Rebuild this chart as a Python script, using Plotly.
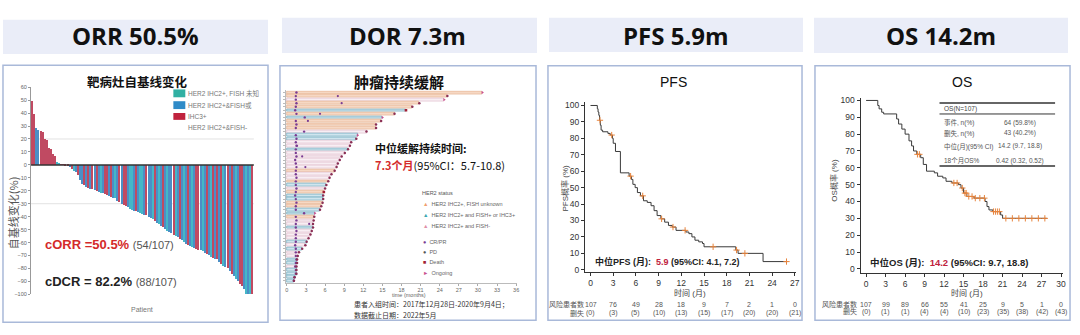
import plotly.graph_objects as go

W, H = 1080, 335
def px(x): return x / W
def py(y): return 1 - y / H

# ---------------- data ----------------
header_titles = ["ORR 50.5%", "DOR 7.3m", "PFS 5.9m", "OS 14.2m"]

# waterfall: best % change from baseline, 107 patients
wf_values = [49, 39, 28, 27, 26, 25, 20, 19, 13, 12, 8, 7, 2, 1, 0.5,
             0.3, -0.5, -1, -2, -3, -5, -6, -8, -12, -15, -16, -17, -18, -18.5, -19,
             -19.5, -20, -21, -21.5, -22, -22.5, -23, -24, -25, -25.5, -26, -28, -29, -30, -31,
             -32, -33, -34, -35, -36, -36, -36.5, -37, -38, -38.5, -39, -40, -41, -42, -43.5,
             -45, -46, -47, -48, -50, -51, -52, -53, -54, -55, -56, -57, -58, -60, -61,
             -62, -63, -63.5, -64, -65, -65.5, -66, -67, -68, -69, -70, -71, -72, -72.5, -73,
             -75, -77, -78, -79, -80, -82, -84, -86, -88, -90, -92, -94, -96, -100, -100, -100, -100]
wf_groups = ("RRBBRRRRRRRRTTR"
             "RRRBRTBRBBRBRBR"
             "BRBTBRRBRBTBRBR"
             "RBTTBRBTTBRBBTR"
             "BTBRBTBBRTBRBTB"
             "RBTBRRBTBRBTRBR"
             "BRTBRBRBTBRRBTBTR")
wf_ticks = list(range(-100, 61, 10))
wf_legend = ["HER2 IHC2+, FISH 未知", "HER2 IHC2+&FISH或", "IHC3+", "HER2 IHC2+&FISH-"]

# swimmer: duration of response (months), 54 responders
sw_dor = [30.7, 25.2, 24.7, 20.8, 19.7, 18.7, 16.9, 15.0, 14.8, 14.0, 14.0, 12.5, 11.1, 10.9,
          10.1, 9.9, 9.6, 9.1, 8.6, 8.3, 8.0, 7.8, 7.5, 7.0, 6.7, 6.5, 6.2, 6.0, 5.8, 5.7,
          5.7, 5.6, 5.4, 5.2, 4.4, 4.3, 4.2, 4.1, 4.1, 3.9, 3.7, 3.4, 3.1, 2.9, 2.4, 1.9,
          1.7, 1.6, 1.6, 1.5, 1.5, 1.5, 1.2, 1.1]
sw_groups = ("UUNUUPUPU" "UUNPPNNPN" "NNNNUNNUP" "NUPPUUPPU" "NNPNNNPNP" "NNPPNPPPP")
sw_resp = [1.5, 1.4, 1.4, 1.5, 1.4, 1.3, 1.5, 2.8, 1.4, 1.5, 1.4, 2.7, 1.4, 1.5, 1.4, 1.5,
           1.4, 1.4, 1.5, 1.3, 1.4, 1.5, 1.4, 1.4, 1.5, 1.4, 1.4, 1.5, 1.4, 1.3, 1.4, 1.5,
           1.4, 1.4, 2.7, 1.4, 1.5, 1.4, 1.4, 1.5, 1.4, 1.4, 1.4, 1.3, 1.4, 1.4, 1.4, 1.5,
           1.4, 1.3, 1.4, 1.4, 1.2, 1.1]
sw_end = ("OPOPPDPOPP" "PPOPPPPPPP" "PPPPPPPPDP" "PPPPOPPPPP" "PPPPPPPPPP" "PPPP")
sw_extra_row = [2, 4, 7, 9, 16, 19, 22, 38]
sw_extra_t = [8.0, 8.6, 5.2, 3.3, 1.6, 2.4, 2.9, 3.5]
sw_ticks = list(range(0, 37, 3))
sw_legend = ["HER2 IHC2+, FISH unknown", "HER2 IHC2+ and FISH+ or IHC3+", "HER2 IHC2+ and FISH-"]
sw_event_legend = ["CR/PR", "PD", "Death", "Ongoing"]

# PFS Kaplan-Meier
pfs_t = [0, 0.9, 1.0, 1.1, 1.2, 1.3, 1.4, 1.6, 2.3, 2.6, 2.9, 3.0, 3.3, 3.95, 5.1, 5.4, 5.6,
         5.9, 6.2, 6.6, 7.0, 7.5, 8.0, 8.4, 8.8, 9.3, 9.8, 10.3, 10.8, 11.3, 12.6, 13.0, 13.4,
         13.8, 14.3, 14.8, 15.0, 19.2, 19.5, 22.8, 26.0]
pfs_s = [100, 98, 96, 94, 91, 88, 85, 84, 83, 82, 80, 77, 72, 59, 57, 55, 52,
         50, 47, 45, 42, 41, 39, 36, 33, 31, 29, 27, 26, 24, 23, 22, 20,
         18, 17, 16, 14, 12, 10, 5, 5]
pfs_cens = [1.25, 2.8, 5.3, 6.9, 9.4, 10.9, 12.5, 16.2, 19.3, 20.4, 25.9]
pfs_risk_t = [0, 3, 6, 9, 12, 15, 18, 21, 24, 27]
pfs_risk_n = [107, 76, 49, 28, 18, 9, 7, 2, 1, 0]
pfs_risk_c = [0, 3, 5, 10, 13, 15, 17, 20, 20, 21]

# OS Kaplan-Meier
os_t = [0, 1.8, 2.0, 2.4, 2.7, 4.7, 5.0, 5.5, 6.0, 6.6, 7.0, 7.3, 7.8, 8.4, 8.8, 9.3, 10.5,
        11.0, 11.8, 12.3, 13.2, 14.2, 14.6, 15.0, 15.5, 16.6, 18.3, 18.6, 18.9, 19.5, 20.7,
        21.0, 27.8]
os_s = [100, 97, 95, 93, 92, 89, 86, 83, 80, 76, 73, 70, 68, 66, 62, 58, 57,
        55, 54, 52, 51, 50, 48, 45, 43, 42, 40, 37, 35, 34, 32,
        30, 30]
os_cens = [7.9, 8.2, 13.5, 14.0, 14.8, 15.2, 15.4, 15.8, 16.3, 16.8, 17.5, 18.2, 19.6, 19.9,
           20.2, 20.5, 21.5, 22.5, 23.5, 24.5, 25.5, 26.5, 27.5]
os_risk_t = [0, 3, 6, 9, 12, 15, 18, 21, 24, 27, 30]
os_risk_n = [107, 99, 89, 66, 55, 41, 25, 9, 5, 1, 0]
os_risk_c = [0, 1, 1, 4, 4, 10, 23, 35, 38, 42, 43]
os_table_head = "OS(N=107)"
os_table_labels = ["事件, n(%)", "删失, n(%)", "中位(月)(95% CI)", "18个月OS%"]
os_table_values = ["64 (59.8%)", "43 (40.2%)", "14.2 (9.7, 18.8)", "0.42 (0.32, 0.52)"]

# ---------------- styling ----------------
FONT = "Liberation Sans, Noto Sans CJK SC, sans-serif"
NARROW = "Liberation Sans, Noto Sans CJK SC, sans-serif"
CJK = "Noto Sans CJK SC, Liberation Sans, sans-serif"
HEAD = "Open Sans, Liberation Sans, sans-serif"

wf_colors = {"T": "#45b7c7", "B": "#4b8fc6", "R": "#c04a62"}
sw_fill = {"U": "#f6d8c4", "P": "#cfe5ee", "N": "#f8eef3"}
sw_line = {"U": "#e0a987", "P": "#5e9fb6", "N": "#dcb6c6"}


def step_at(ts, ss, t):
    v = ss[0]
    for ti, si in zip(ts, ss):
        if ti <= t:
            v = si
    return v


fig = go.Figure()

# waterfall bars
fig.add_trace(go.Bar(x=list(range(1, len(wf_values) + 1)), y=wf_values, width=0.72,
                     marker=dict(color=[wf_colors[g] for g in wf_groups], line=dict(width=0)),
                     xaxis="x", yaxis="y", hoverinfo="skip"))

# swimmer bars
rows = list(range(1, len(sw_dor) + 1))
fig.add_trace(go.Bar(y=rows, x=sw_dor, base=0, orientation="h", width=0.78,
                     marker=dict(color=[sw_fill[g] for g in sw_groups],
                                 line=dict(color=[sw_line[g] for g in sw_groups], width=0.6)),
                     xaxis="x2", yaxis="y2", hoverinfo="skip"))
fig.add_trace(go.Scatter(x=sw_resp, y=rows, mode="markers",
                         marker=dict(size=2.4, color="#7a3b93"), xaxis="x2", yaxis="y2"))
fig.add_trace(go.Scatter(x=sw_extra_t, y=sw_extra_row, mode="markers",
                         marker=dict(size=2.2, color="#7a3b93"), xaxis="x2", yaxis="y2"))
end_style = {"P": dict(symbol="circle", size=2.5, color="#8a2f55"),
             "D": dict(symbol="square", size=2.6, color="#a31f35"),
             "O": dict(symbol="triangle-right", size=3.0, color="#c9508e")}
for k, st in end_style.items():
    xs = [d for d, e in zip(sw_dor, sw_end) if e == k]
    ys = [r for r, e in zip(rows, sw_end) if e == k]
    fig.add_trace(go.Scatter(x=xs, y=ys, mode="markers", marker=st, xaxis="x2", yaxis="y2"))

# PFS
fig.add_trace(go.Scatter(x=pfs_t, y=pfs_s, mode="lines", line=dict(shape="hv", color="#3a3a3a", width=1),
                         xaxis="x3", yaxis="y3"))
fig.add_trace(go.Scatter(x=pfs_cens, y=[step_at(pfs_t, pfs_s, t) for t in pfs_cens], mode="markers",
                         marker=dict(symbol="cross-thin", size=4.5, line=dict(color="#e8843c", width=1)),
                         xaxis="x3", yaxis="y3"))
# OS
fig.add_trace(go.Scatter(x=os_t, y=os_s, mode="lines", line=dict(shape="hv", color="#3a3a3a", width=1),
                         xaxis="x4", yaxis="y4"))
fig.add_trace(go.Scatter(x=os_cens, y=[step_at(os_t, os_s, t) for t in os_cens], mode="markers",
                         marker=dict(symbol="cross-thin", size=4.5, line=dict(color="#e8843c", width=1)),
                         xaxis="x4", yaxis="y4"))

shapes = []
annotations = []


def T(text, x, y, size, color="#222", xanchor="center", yanchor="middle", family=FONT, angle=0):
    annotations.append(dict(text=text, x=px(x), y=py(y), xref="paper", yref="paper", showarrow=False,
                            xanchor=xanchor, yanchor=yanchor, textangle=angle, borderpad=0,
                            font=dict(size=size, color=color, family=family)))


def R(x0, y0, x1, y1, fill=None, line=None, lw=0):
    shapes.append(dict(type="rect", xref="paper", yref="paper", x0=px(x0), x1=px(x1), y0=py(y1), y1=py(y0),
                       fillcolor=fill or "rgba(0,0,0,0)", line=dict(color=line or "rgba(0,0,0,0)", width=lw),
                       layer="below"))


def L(x0, y0, x1, y1, color="#333", lw=1):
    shapes.append(dict(type="line", xref="paper", yref="paper", x0=px(x0), x1=px(x1), y0=py(y0), y1=py(y1),
                       line=dict(color=color, width=lw)))


# headers and frames
hdr_boxes = [(2, 17, 268, 52), (282, 15, 538, 51), (550, 15, 805, 50), (816, 15, 1071, 51)]
hdr_cx = [135, 408, 678, 943]
for (x0, y0, x1, y1), cx, t in zip(hdr_boxes, hdr_cx, header_titles):
    R(x0, y0, x1, y1, fill="#eaedf8")
    T("<b>%s</b>" % t, cx, 33, 24, "#111", family=HEAD)
frames = [(2, 63.5, 268, 325), (280, 64, 537, 323), (549, 64, 804, 323), (817, 64, 1073, 323)]
for (x0, y0, x1, y1) in frames:
    R(x0, y0, x1, y1, line="#a9b9d9", lw=1.5)

# ---- panel 1: waterfall ----
T("<b>靶病灶自基线变化</b>", 137, 80, 12.5, "#111", family=CJK)
leg_sq = [("T", 88, 96), ("B", 100, 108), ("R", 112, 119)]
leg_col = {"T": "#31b0a3", "B": "#2f8bc8", "R": "#c0223d"}
for g, y0, y1 in leg_sq:
    R(173, y0, 185, y1, fill=leg_col[g])
for t, yy in zip(wf_legend, [92, 104, 116, 127]):
    T(t, 187, yy, 6.5, "#777", xanchor="left")
for v in (20, -30):
    shapes.append(dict(type="line", xref="x", yref="y", x0=0.4, x1=107.6, y0=v, y1=v,
                       line=dict(color="#e2e2e2", width=1), layer="below"))
shapes.append(dict(type="line", xref="x", yref="y", x0=0.4, x1=107.6, y0=0, y1=0,
                   line=dict(color="#333", width=1.5)))
T("自基线变化(%)", 12, 213, 11, "#555", angle=-90, family=CJK)
T("Patient", 142, 312, 7, "#777")
T("<b>cORR =50.5%</b> <span style='color:#555;font-weight:normal;font-size:11px'>(54/107)</span>",
  43, 246, 13, "#d42a2a", xanchor="left", family=NARROW)
T("<b>cDCR = 82.2%</b> <span style='color:#555;font-weight:normal;font-size:11px'>(88/107)</span>",
  43, 284, 13, "#222", xanchor="left", family=NARROW)

# ---- panel 2: swimmer ----
T("<b>肿瘤持续缓解</b>", 399, 80, 15, "#111", family=CJK)
T("<b>中位缓解持续时间:</b>", 374, 148, 11, "#111", xanchor="left", family=CJK)
T("<b><span style='color:#d42a2a'>7.3个月</span></b>(95%CI：5.7-10.8)", 374, 165, 11, "#111",
  xanchor="left", family=CJK)
T("HER2 status", 422, 193, 5.5, "#555", xanchor="left")
for t, yy, c in zip(sw_legend, [205, 216, 227], ["#f0a070", "#3aa8b0", "#e090a8"]):
    T("<span style='color:%s'>▲</span>  %s" % (c, t), 423, yy, 5.5, "#666", xanchor="left")
for t, yy, c, sym in zip(sw_event_legend, [243, 254, 264, 275],
                         ["#7a3b93", "#555", "#a31f35", "#c9508e"], ["●", "●", "■", "►"]):
    T("<span style='color:%s'>%s</span>  %s" % (c, sym, t), 423, yy, 5.5, "#666", xanchor="left")
T("time (months)", 410, 297, 5.5, "#666")
T("患者入组时间：2017年12月28日-2020年9月4日；", 353, 306, 7, "#333", xanchor="left", family=CJK)
T("数据截止日期：2022年5月", 353, 318, 7, "#333", xanchor="left", family=CJK)

# ---- panel 3: PFS ----
T("PFS", 675, 80, 14, "#111")
T("PFS概率 (%)", 566, 188, 8, "#444", angle=-90, family=NARROW)
T("时间 (月)", 692, 295, 8, "#444", family=NARROW)
T("<b>中位PFS (月):  <span style='color:#c0223d'>5.9</span> (95%CI: 4.1, 7.2)</b>", 595, 263, 9,
  "#222", xanchor="left", family=NARROW)
T("风险患者数", 586, 307, 7, "#555", xanchor="right", family=NARROW)
T("删失", 586, 316, 7, "#555", xanchor="right", family=NARROW)
for t, n, c in zip(pfs_risk_t, pfs_risk_n, pfs_risk_c):
    xx = 591.7 + t * 7.59
    T(str(n), xx, 307, 7, "#555", family=NARROW)
    T("(%d)" % c, xx, 316, 7, "#555", family=NARROW)

# ---- panel 4: OS ----
T("OS", 965, 80, 14, "#111")
T("OS概率 (%)", 836, 180, 8, "#444", angle=-90, family=NARROW)
T("时间 (月)", 970, 295, 8, "#444", family=NARROW)
T("<b>中位OS (月):  <span style='color:#c0223d'>14.2</span> (95%CI: 9.7, 18.8)</b>", 871, 264, 9.5,
  "#222", xanchor="left", family=NARROW)
T("风险患者数", 860, 306.5, 7, "#555", xanchor="right", family=NARROW)
T("删失", 860, 314.5, 7, "#555", xanchor="right", family=NARROW)
for t, n, c in zip(os_risk_t, os_risk_n, os_risk_c):
    xx = 868.3 + t * 6.523
    T(str(n), xx, 306.5, 7, "#555", family=NARROW)
    T("(%d)" % c, xx, 314.5, 7, "#555", family=NARROW)
L(942, 101.7, 1058, 101.7, "#333", 1.5)
L(942, 113, 1058, 113, "#333", 1)
L(942, 166, 1058, 166, "#333", 1.5)
T(os_table_head, 946, 107.5, 6.5, "#444", xanchor="left", family=NARROW)
for lab, val, yy in zip(os_table_labels, os_table_values, [121.7, 132.7, 146, 161]):
    T(lab, 946, yy, 6.5, "#555", xanchor="left", family=NARROW)
    T(val, 1023, yy, 6.5, "#555", family=NARROW)

km_tick = dict(size=8.5, color="#333", family=NARROW)
fig.update_layout(
    width=W, height=H, margin=dict(l=0, r=0, t=0, b=0),
    paper_bgcolor="white", plot_bgcolor="rgba(0,0,0,0)",
    showlegend=False, barmode="overlay", bargap=0,
    shapes=shapes, annotations=annotations,
    xaxis=dict(domain=[px(30), px(254)], range=[0.3, 107.7], visible=False, anchor="y"),
    yaxis=dict(domain=[py(296.7), py(85.7)], range=[-100, 60], tickvals=wf_ticks, ticks="outside",
               ticklen=2, tickcolor="#999", showline=True, linecolor="#999", linewidth=1,
               showgrid=False, zeroline=False, tickfont=dict(size=5.5, color="#666", family=FONT),
               anchor="x"),
    xaxis2=dict(domain=[px(286), px(518)], range=[-0.15, 36.15], tickvals=sw_ticks, ticks="outside",
                ticklen=2, tickcolor="#aaa", showline=True, linecolor="#bbb", linewidth=1,
                showgrid=False, zeroline=False, tickfont=dict(size=5.5, color="#666", family=FONT),
                anchor="y2"),
    yaxis2=dict(domain=[py(285), py(89)], range=[54.6, 0.4], tickvals=rows, ticks="outside", ticklen=1.5,
                tickcolor="#bbb", showticklabels=False, showline=True, linecolor="#bbb", linewidth=1,
                showgrid=False, zeroline=False, anchor="x2"),
    xaxis3=dict(domain=[px(586), px(798.3)], range=[-0.75, 27.2], tickvals=pfs_risk_t, ticks="outside",
                ticklen=3, tickcolor="#333", showline=True, linecolor="#333", linewidth=1,
                showgrid=False, zeroline=False, tickfont=km_tick, anchor="y3"),
    yaxis3=dict(domain=[py(274), py(101)], range=[-1.4, 102], tickvals=list(range(0, 101, 10)),
                ticks="outside", ticklen=3, tickcolor="#333", showline=True, linecolor="#333",
                linewidth=1, showgrid=False, zeroline=False, tickfont=km_tick, anchor="x3"),
    xaxis4=dict(domain=[px(862.7), px(1066)], range=[-0.86, 30.3], tickvals=os_risk_t, ticks="outside",
                ticklen=3, tickcolor="#333", showline=True, linecolor="#333", linewidth=1,
                showgrid=False, zeroline=False, tickfont=km_tick, anchor="y4"),
    yaxis4=dict(domain=[py(275), py(97)], range=[-2.5, 101.3], tickvals=list(range(0, 101, 10)),
                ticks="outside", ticklen=3, tickcolor="#333", showline=True, linecolor="#333",
                linewidth=1, showgrid=False, zeroline=False, tickfont=km_tick, anchor="x4"),
)

fig.write_html("out.html")
